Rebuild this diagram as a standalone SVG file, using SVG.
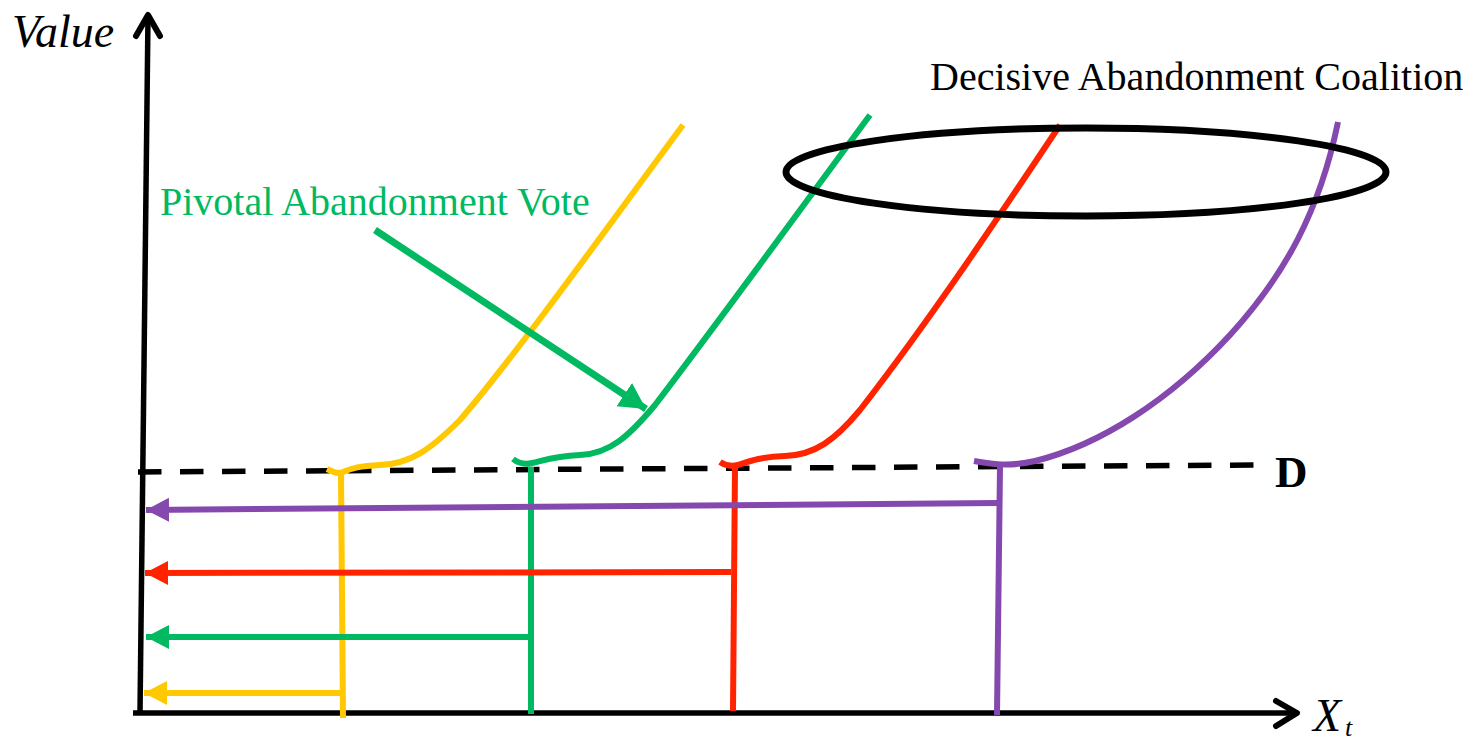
<svg xmlns="http://www.w3.org/2000/svg" width="1467" height="743" viewBox="0 0 1467 743">
<style>
.ax{stroke:#000;stroke-width:5.5;fill:none;stroke-linecap:butt}
.ah{stroke:#000;stroke-width:6;fill:none;stroke-linecap:round;stroke-linejoin:round}
.c{fill:none;stroke-width:6;stroke-linecap:butt}
.y{stroke:#FFC800}.g{stroke:#00B960}.r{stroke:#FF2300}.p{stroke:#8548AE}
.serif{font-family:"Liberation Serif","Times New Roman",serif}
</style>
<defs>
<marker id="mY" markerUnits="userSpaceOnUse" markerWidth="26" markerHeight="26" refX="23" refY="12" orient="auto"><path d="M0,0 L23,12 L0,24 Z" fill="#FFC800"/></marker>
<marker id="mG" markerUnits="userSpaceOnUse" markerWidth="26" markerHeight="26" refX="23" refY="12" orient="auto"><path d="M0,0 L23,12 L0,24 Z" fill="#00B960"/></marker>
<marker id="mR" markerUnits="userSpaceOnUse" markerWidth="26" markerHeight="26" refX="23" refY="12" orient="auto"><path d="M0,0 L23,12 L0,24 Z" fill="#FF2300"/></marker>
<marker id="mP" markerUnits="userSpaceOnUse" markerWidth="26" markerHeight="26" refX="23" refY="12" orient="auto"><path d="M0,0 L23,12 L0,24 Z" fill="#8548AE"/></marker>
<marker id="mG2" markerUnits="userSpaceOnUse" markerWidth="32" markerHeight="32" refX="26" refY="14" orient="auto"><path d="M0,0 L26,14 L0,28 Z" fill="#00B960"/></marker>
</defs>
<rect width="1467" height="743" fill="#fff"/>
<g id="axes">
<line class="ax" x1="140" y1="713" x2="148" y2="16"/>
<polyline class="ah" points="136,36 148,15 160,36"/>
<line class="ax" x1="133" y1="713" x2="1295" y2="713"/>
<polyline class="ah" points="1276,701 1297,713 1276,726"/>
<line x1="138" y1="472" x2="1255" y2="465" stroke="#000" stroke-width="5.5" stroke-dasharray="23.5 18.5"/>
<text class="serif" x="12" y="47" font-size="46" font-style="italic">Value</text>
<text class="serif" x="1313" y="731" font-size="46" font-style="italic">X</text>
<text class="serif" x="1345" y="736" font-size="26" font-style="italic">t</text>
<text class="serif" x="1275" y="487" font-size="45" font-weight="bold">D</text>
</g>
<g id="curves">
<path id="curve-yellow" class="c y" d="M327,469 C333,472 337,474 343,472 C352,468 360,466 380,465 C410,464 430,450 460,420 C520,350 620,210 683,125"/>
<path id="curve-green" class="c g" d="M513,459 C518,463 524,465 532,463 C545,460 555,456 580,455 C610,454 630,435 655,405 C720,320 800,210 870,115"/>
<path id="curve-red" class="c r" d="M720,462 C726,466 731,467 738,465 C750,461 760,457 785,456 C815,455 835,440 860,410 C930,320 1000,215 1060,125"/>
<path id="curve-purple" class="c p" d="M974,461 C990,464 1010,467 1035,461 C1100,445 1170,400 1230,335 C1285,275 1320,210 1338,122"/>
</g>
<g id="connectors">
<line class="c y" x1="341" y1="472" x2="343" y2="718"/>
<line class="c g" x1="531" y1="467" x2="531" y2="714"/>
<line class="c r" x1="735" y1="466" x2="733" y2="711"/>
<line class="c p" x1="1000" y1="466" x2="997" y2="715"/>
<line class="c p" x1="998" y1="503" x2="146" y2="510" marker-end="url(#mP)"/>
<line class="c r" x1="731" y1="572" x2="145" y2="573" marker-end="url(#mR)"/>
<line class="c g" x1="529" y1="637" x2="146" y2="637" marker-end="url(#mG)"/>
<line class="c y" x1="341" y1="693" x2="144" y2="693" marker-end="url(#mY)"/>
<line x1="375" y1="230" x2="646" y2="409" stroke="#00B960" stroke-width="7" marker-end="url(#mG2)"/>
</g>
<g id="coalition">
<ellipse cx="1086" cy="172" rx="300" ry="44" fill="none" stroke="#000" stroke-width="7"/>
<text class="serif" x="930" y="90" font-size="40">Decisive Abandonment Coalition</text>
</g>
<g id="pivotal">
<text class="serif" x="160" y="215" font-size="40" fill="#00B960">Pivotal Abandonment Vote</text>
</g>
</svg>
